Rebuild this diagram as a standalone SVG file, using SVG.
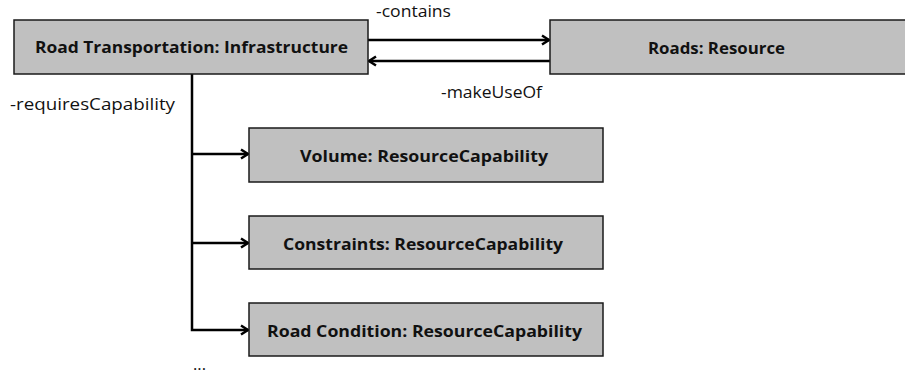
<svg xmlns="http://www.w3.org/2000/svg" width="905" height="377" viewBox="0 0 905 377">
<style>
.box{fill:#c0c0c0;stroke:#1a1a1a;stroke-width:1.5}
.lbl{font-family:"Open Sans","Liberation Sans",sans-serif;font-weight:bold;font-size:16px;fill:#111}
.rl{font-family:"Open Sans","Liberation Sans",sans-serif;font-size:16px;fill:#111}
.ln{fill:none;stroke:#000;stroke-width:2.5}
</style>
<defs>
<marker id="ah" markerWidth="12" markerHeight="12" refX="9" refY="6" orient="auto" markerUnits="userSpaceOnUse">
<polyline points="2,1.5 9,6 2,10.5" fill="none" stroke="#000" stroke-width="2.5"/>
</marker>
</defs>
<rect width="905" height="377" fill="#fff"/>
<g id="connectors">
<line class="ln" x1="368" y1="40" x2="549" y2="40" marker-end="url(#ah)"/>
<line class="ln" x1="550" y1="61" x2="369" y2="61" marker-end="url(#ah)"/>
<polyline class="ln" points="192,74 192,330 248,330" marker-end="url(#ah)"/>
<line class="ln" x1="192" y1="154" x2="248" y2="154" marker-end="url(#ah)"/>
<line class="ln" x1="192" y1="243" x2="248" y2="243" marker-end="url(#ah)"/>
<text class="rl" x="376" y="17" textLength="75" lengthAdjust="spacingAndGlyphs">-contains</text>
<text class="rl" x="441" y="98" textLength="101" lengthAdjust="spacingAndGlyphs">-makeUseOf</text>
<text class="rl" x="10" y="110" textLength="165" lengthAdjust="spacingAndGlyphs">-requiresCapability</text>
<text class="rl" x="193" y="370" textLength="13" lengthAdjust="spacingAndGlyphs">...</text>
</g>
<g id="road-transportation">
<rect class="box" x="14" y="20" width="354" height="54"/>
<text class="lbl" x="35" y="53" textLength="313" lengthAdjust="spacingAndGlyphs">Road Transportation: Infrastructure</text>
</g>
<g id="roads">
<rect class="box" x="550" y="20" width="370" height="54"/>
<text class="lbl" x="648" y="54" textLength="137" lengthAdjust="spacingAndGlyphs">Roads: Resource</text>
</g>
<g id="volume">
<rect class="box" x="249" y="128" width="354" height="54"/>
<text class="lbl" x="300" y="162" textLength="248" lengthAdjust="spacingAndGlyphs">Volume: ResourceCapability</text>
</g>
<g id="constraints">
<rect class="box" x="249" y="216" width="354" height="53"/>
<text class="lbl" x="283" y="250" textLength="280" lengthAdjust="spacingAndGlyphs">Constraints: ResourceCapability</text>
</g>
<g id="road-condition">
<rect class="box" x="249" y="303" width="354" height="53"/>
<text class="lbl" x="267" y="337" textLength="315" lengthAdjust="spacingAndGlyphs">Road Condition: ResourceCapability</text>
</g>
</svg>
